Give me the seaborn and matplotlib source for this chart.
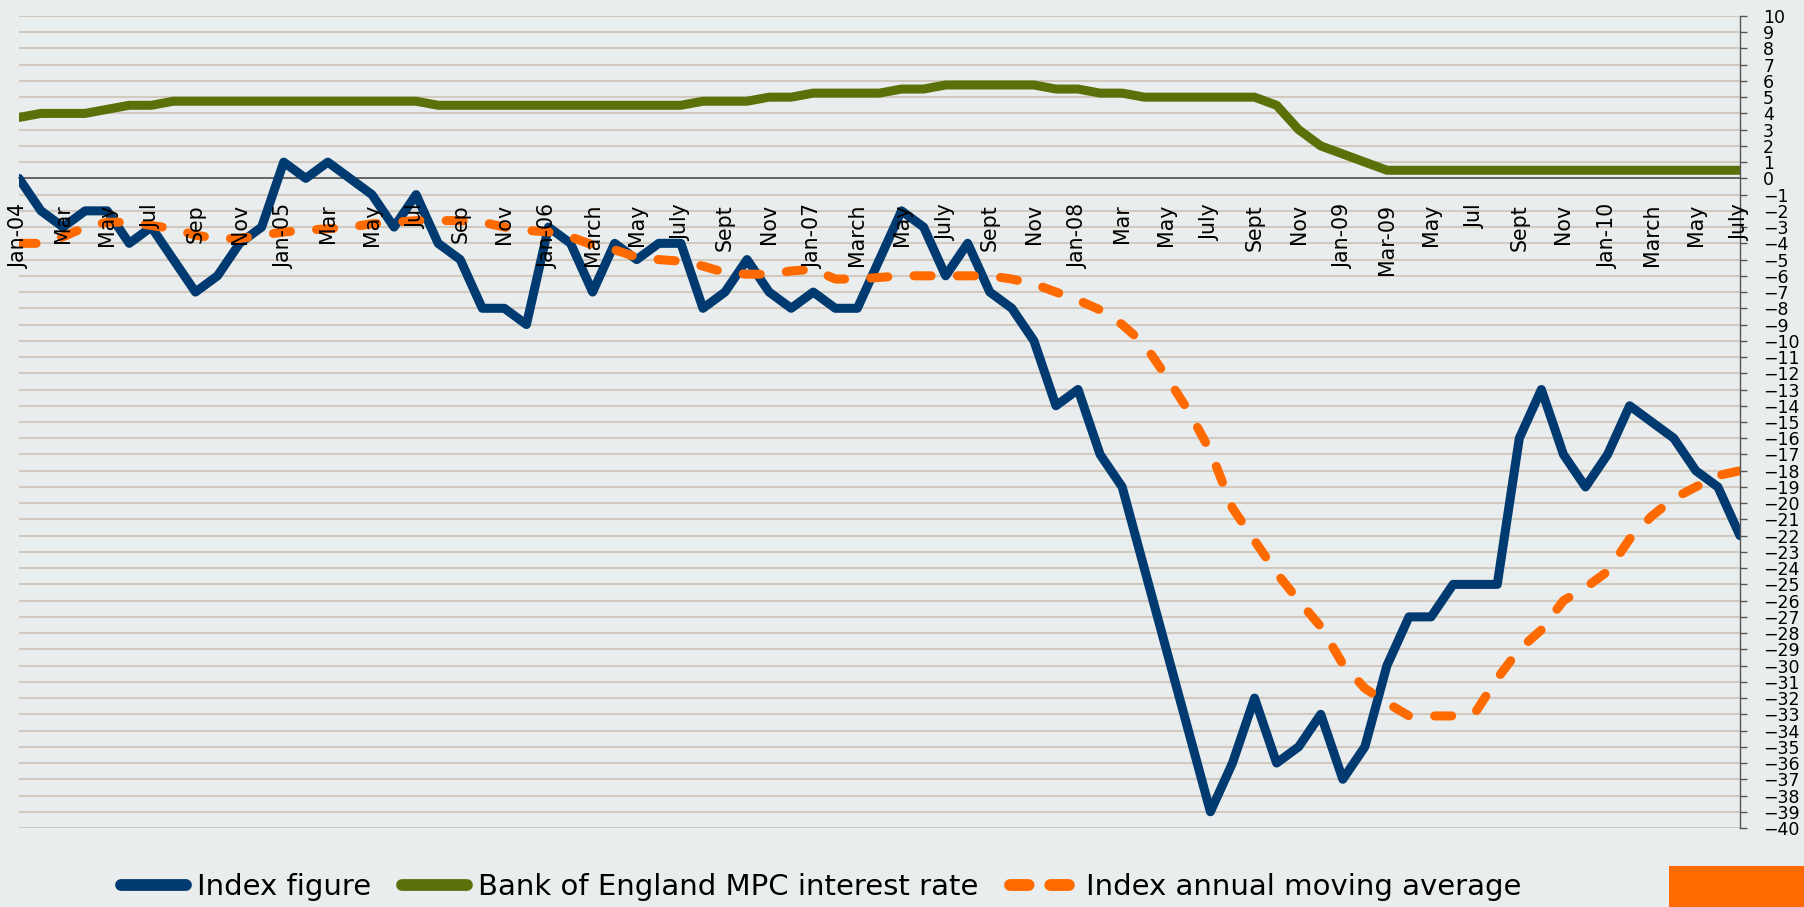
import matplotlib

matplotlib.use("Agg")
import matplotlib.pyplot as plt
from matplotlib.lines import Line2D
from matplotlib.patches import Rectangle
import pandas as pd
import seaborn as sns

# month labels, one every two months (Jan-04 .. July-10)
tick_labels = [
    "Jan-04", "Mar", "May", "Jul", "Sep", "Nov",
    "Jan-05", "Mar", "May", "Jul", "Sep", "Nov",
    "Jan-06", "March", "May", "July", "Sept", "Nov",
    "Jan-07", "March", "May", "July", "Sept", "Nov",
    "Jan-08", "Mar", "May", "July", "Sept", "Nov",
    "Jan-09", "Mar-09", "May", "Jul", "Sept", "Nov",
    "Jan-10", "March", "May", "July",
]

index_figure = [
    0, -2, -3, -2, -2, -4, -3, -5, -7, -6, -4, -3,
    1, 0, 1, 0, -1, -3, -1, -4, -5, -8, -8, -9,
    -3, -4, -7, -4, -5, -4, -4, -8, -7, -5, -7, -8,
    -7, -8, -8, -5, -2, -3, -6, -4, -7, -8, -10, -14,
    -13, -17, -19, -24, -29, -34, -39, -36, -32, -36, -35, -33,
    -37, -35, -30, -27, -27, -25, -25, -25, -16, -13, -17, -19,
    -17, -14, -15, -16, -18, -19, -22,
]

boe_rate = [
    3.75, 4.0, 4.0, 4.0, 4.25, 4.5, 4.5, 4.75, 4.75, 4.75, 4.75, 4.75,
    4.75, 4.75, 4.75, 4.75, 4.75, 4.75, 4.75, 4.5, 4.5, 4.5, 4.5, 4.5,
    4.5, 4.5, 4.5, 4.5, 4.5, 4.5, 4.5, 4.75, 4.75, 4.75, 5.0, 5.0,
    5.25, 5.25, 5.25, 5.25, 5.5, 5.5, 5.75, 5.75, 5.75, 5.75, 5.75, 5.5,
    5.5, 5.25, 5.25, 5.0, 5.0, 5.0, 5.0, 5.0, 5.0, 4.5, 3.0, 2.0,
    1.5, 1.0, 0.5, 0.5, 0.5, 0.5, 0.5, 0.5, 0.5, 0.5, 0.5, 0.5,
    0.5, 0.5, 0.5, 0.5, 0.5, 0.5, 0.5,
]

moving_avg = [
    -4.0, -4.0, -3.6, -3.0, -2.7, -2.7, -2.9, -3.1, -3.5, -3.7, -3.7, -3.5,
    -3.3, -3.2, -3.1, -3.0, -2.8, -2.7, -2.6, -2.6, -2.6, -2.7, -3.0, -3.2,
    -3.3, -3.6, -4.1, -4.4, -4.85, -5.0, -5.1, -5.4, -5.8, -5.9, -5.9, -5.7,
    -5.6, -6.2, -6.2, -6.1, -6.0, -6.0, -6.0, -6.0, -6.0, -6.2, -6.5, -7.0,
    -7.5, -8.1, -9.0, -10.2, -12.2, -14.3, -16.8, -20.3, -22.3, -24.3, -26.0, -27.6,
    -29.9, -31.4, -32.3, -33.1, -33.1, -33.1, -32.9, -30.8, -29.0, -27.8, -26.0, -25.2,
    -24.2, -22.2, -20.8, -19.7, -19.0, -18.3, -18.0,
]

series_names = [
    "Index figure",
    "Bank of England MPC interest rate",
    "Index annual moving average",
]

BG = "#E9EDED"
GRID = "#D2CABF"
AXIS = "#555555"
BLUE = "#003A70"
GREEN = "#5A710A"
ORANGE = "#FF6A00"

df = pd.DataFrame({
    "month": range(len(index_figure)),
    "index": index_figure,
    "rate": boe_rate,
    "avg": moving_avg,
})

sns.set_style("white", {"axes.facecolor": BG, "figure.facecolor": BG})
plt.rcParams["font.family"] = ["DejaVu Sans"]

fig = plt.figure(figsize=(18.04, 9.07), dpi=100)
ax = fig.add_axes([0.0105, 0.0871, 0.954, 0.8953])

sns.lineplot(data=df, x="month", y="index", ax=ax, color=BLUE, linewidth=6.5,
             legend=False, solid_capstyle="round", solid_joinstyle="round")
sns.lineplot(data=df, x="month", y="rate", ax=ax, color=GREEN, linewidth=6.5,
             legend=False, solid_capstyle="round", solid_joinstyle="round")
sns.lineplot(data=df, x="month", y="avg", ax=ax, color=ORANGE, linewidth=6.5,
             legend=False, linestyle=(0, (1.9, 2.9)))
ax.lines[-1].set_dash_capstyle("round")
ax.lines[-1].set_dash_joinstyle("round")

ax.set_xlim(0, len(index_figure) - 1)
ax.set_ylim(-40, 10)
ax.set_xlabel("")
ax.set_ylabel("")

months = df["month"].tolist()
ax.set_xticks(months)
ax.set_xticklabels([tick_labels[m // 2] if m % 2 == 0 else "" for m in months])
ax.set_yticks(range(-40, 11))
ax.yaxis.tick_right()

ax.tick_params(axis="x", direction="out", length=5, width=1, color=AXIS,
               pad=13.4, labelsize=14.8, labelrotation=90, labelcolor="black")
ax.tick_params(axis="y", direction="out", length=4.7, width=1, color=AXIS,
               pad=12, labelsize=12.5, labelcolor="black", left=False, right=True)

for side in ["top", "left"]:
    ax.spines[side].set_visible(False)
ax.spines["right"].set_color(AXIS)
ax.spines["right"].set_linewidth(1)
ax.spines["bottom"].set_position(("data", 0))
ax.spines["bottom"].set_color(AXIS)
ax.spines["bottom"].set_linewidth(1.2)
ax.spines["bottom"].set_zorder(1)

ax.grid(axis="y", color=GRID, linewidth=1.5)
ax.grid(axis="x", visible=False)
ax.set_axisbelow(True)
# month labels sit on top of the lines, as in the original
ax.xaxis.set_zorder(3)

handles = [
    Line2D([], [], color=BLUE, lw=8.5, solid_capstyle="round"),
    Line2D([], [], color=GREEN, lw=8.5, solid_capstyle="round"),
    Line2D([], [], color=ORANGE, lw=8.5, linestyle=(0, (1.58, 1.83)),
           dash_capstyle="round"),
]
fig.legend(handles, series_names, loc="center", bbox_to_anchor=(0.4551, 0.0221),
           ncol=3, frameon=False, fontsize=21, handlelength=2.23,
           handletextpad=0.38, columnspacing=1.06, borderpad=0, borderaxespad=0,
           labelcolor="black")

fig.add_artist(Rectangle((1669 / 1804, 0), 1 - 1669 / 1804, 41 / 907,
                         transform=fig.transFigure, color=ORANGE, lw=0))

fig.savefig("out.png", dpi=100, facecolor=BG)
plt.close(fig)
